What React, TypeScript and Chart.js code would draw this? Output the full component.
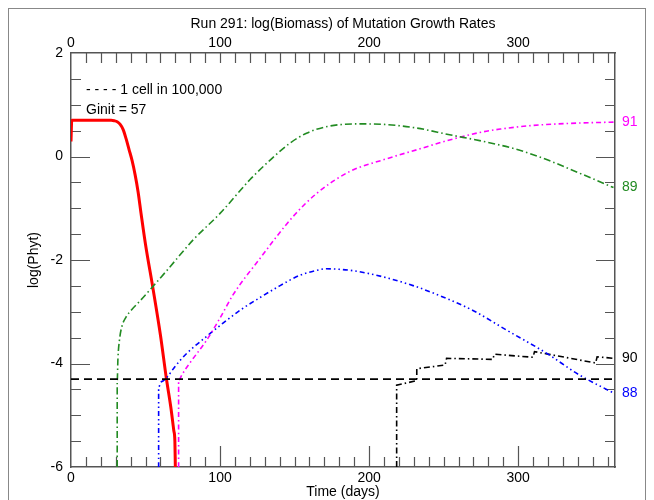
import React, { useEffect, useRef } from "react";
import { Chart, registerables } from "chart.js";

Chart.register(...registerables);

// ---- data ----
const redDays = [0, 0.5, 27, 29, 31, 33, 35, 37, 39, 41, 43, 45, 47, 50, 55, 60, 64, 67, 69, 69.7, 70];
const redVals = [0.29, 0.7, 0.7, 0.69, 0.67, 0.62, 0.52, 0.34, 0.13, -0.08, -0.35, -0.68, -1.1, -1.7, -2.55, -3.45, -4.29, -4.85, -5.3, -5.5, -6];

const greenDays = [31, 31, 31.5, 32.5, 34, 37, 41, 46, 55, 65, 82, 100, 120, 134, 147, 158, 172, 192, 210, 232, 254, 277, 300, 320, 341, 364];
const greenVals = [-6, -4.35, -3.9, -3.55, -3.3, -3.1, -2.95, -2.8, -2.51, -2.18, -1.61, -1.1, -0.45, -0.06, 0.26, 0.45, 0.58, 0.63, 0.62, 0.55, 0.42, 0.29, 0.13, -0.07, -0.32, -0.6];

const pinkDays = [72.2, 72.2, 73, 74.4, 80, 91, 100, 109, 126, 149, 165, 187, 210, 232, 254, 277, 288, 310, 335, 364];
const pinkVals = [-6, -4.32, -4.3, -4.22, -3.98, -3.55, -3.12, -2.66, -2.0, -1.16, -0.71, -0.29, -0.06, 0.13, 0.32, 0.48, 0.53, 0.6, 0.64, 0.665];

const blueDays = [58.8, 58.8, 59.9, 62, 64.3, 70, 77.8, 90, 102, 114, 126, 140, 154, 165, 171, 180, 190, 210, 230, 250, 270, 292, 319, 341, 364];
const blueVals = [-6, -4.47, -4.38, -4.33, -4.27, -4.05, -3.8, -3.5, -3.22, -2.96, -2.74, -2.5, -2.29, -2.2, -2.17, -2.18, -2.21, -2.33, -2.5, -2.72, -2.98, -3.35, -3.8, -4.22, -4.57];

const blackDays = [218.5, 218.5, 232, 232, 251, 252, 283, 284, 310, 311, 352, 353, 364];
const blackVals = [-6, -4.42, -4.33, -4.1, -4.03, -3.9, -3.92, -3.82, -3.88, -3.77, -3.99, -3.87, -3.9];

const cellDays = [0, 365];
const cellVals = [-4.3, -4.3];

const xTickValues = [0, 100, 200, 300];
const yTickValues = [-6, -4, -2, 0, 2];

const seriesLabels = [
  { text: "91", color: "#ff00ff", key: "pink" },
  { text: "89", color: "#228b22", key: "green" },
  { text: "90", color: "#000000", key: "black" },
  { text: "88", color: "#0000ff", key: "blue" },
];

const titleText = "Run 291: log(Biomass) of Mutation Growth Rates";
const legendLine1 = "- - - - 1 cell in 100,000";
const legendLine2 = "Ginit = 57";

const FONT = "'Liberation Sans', Arial, Helvetica, sans-serif";

function pts(xs: number[], ys: number[]) {
  return xs.map((x, i) => ({ x, y: ys[i] }));
}

const AXIS_COLOR = "#555";

const tickPlugin = {
  id: "inwardTicks",
  beforeDatasetsDraw(chart: any) {
    const { ctx, chartArea: a, scales } = chart;
    const xs = scales.x;
    const ys = scales.y;
    ctx.save();
    ctx.strokeStyle = AXIS_COLOR;
    ctx.lineWidth = 1.2;
    ctx.beginPath();
    for (let d = 10; d < 365; d += 10) {
      const px = Math.round(xs.getPixelForValue(d)) + 0.5;
      const major = d % 100 === 0;
      ctx.moveTo(px, a.bottom);
      ctx.lineTo(px, a.bottom - (major ? 21 : 10));
      ctx.moveTo(px, a.top);
      ctx.lineTo(px, a.top + 10);
    }
    for (let i = 1; i < 16; i++) {
      const v = -6 + i * 0.5;
      const py = Math.round(ys.getPixelForValue(v)) + 0.5;
      const major = i % 4 === 0;
      const len = major ? 19 : 10;
      ctx.moveTo(a.left, py);
      ctx.lineTo(a.left + len, py);
      ctx.moveTo(a.right, py);
      ctx.lineTo(a.right - len, py);
    }
    ctx.stroke();
    ctx.restore();
  },
  afterDatasetsDraw(chart: any) {
    const { ctx, chartArea: a, scales } = chart;
    const ys = scales.y;
    ctx.save();
    ctx.font = `14px ${FONT}`;
    ctx.textBaseline = "middle";
    ctx.textAlign = "left";
    ctx.fillStyle = "#000";
    ctx.fillText(legendLine1, a.left + 15, a.top + 37);
    ctx.fillText(legendLine2, a.left + 15, a.top + 57);
    const lastVals: Record<string, number> = {
      pink: pinkVals[pinkVals.length - 1],
      green: greenVals[greenVals.length - 1],
      black: blackVals[blackVals.length - 1],
      blue: blueVals[blueVals.length - 1],
    };
    for (const s of seriesLabels) {
      ctx.fillStyle = s.color;
      ctx.fillText(s.text, a.right + 7, ys.getPixelForValue(lastVals[s.key]));
    }
    ctx.restore();
  },
};

export default function App() {
  const ref = useRef<HTMLCanvasElement | null>(null);
  useEffect(() => {
    if (!ref.current) return;
    Chart.defaults.font.family = FONT;
    Chart.defaults.font.size = 14;
    Chart.defaults.color = "#000";
    const fixTicks = (vals: number[]) => (s: any) => {
      s.ticks = vals.map((v) => ({ value: v }));
    };
    const smooth = { cubicInterpolationMode: "monotone" };
    const chart = new Chart(ref.current, {
      type: "line",
      data: {
        datasets: [
          { data: pts(cellDays, cellVals), borderColor: "#000", borderWidth: 1.8, borderDash: [8, 5] },
          { ...smooth, data: pts(greenDays, greenVals), borderColor: "#228b22", borderWidth: 1.6, borderDash: [7, 3, 1.5, 3] },
          { ...smooth, data: pts(pinkDays, pinkVals), borderColor: "#ff00ff", borderWidth: 1.6, borderDash: [5, 3, 1.5, 3] },
          { ...smooth, data: pts(blueDays, blueVals), borderColor: "#0000ff", borderWidth: 1.6, borderDash: [5, 3, 1.5, 3, 1.5, 3] },
          { data: pts(blackDays, blackVals), borderColor: "#000", borderWidth: 1.6, borderDash: [6, 3, 1.5, 3] },
          { ...smooth, data: pts(redDays, redVals), borderColor: "#ff0000", borderWidth: 3 },
        ] as any,
      },
      options: {
        animation: false,
        responsive: false,
        parsing: true,
        elements: { point: { radius: 0 }, line: { tension: 0, fill: false } },
        layout: { padding: 0 },
        plugins: { legend: { display: false }, tooltip: { enabled: false }, title: { display: false } },
        scales: {
          x: {
            type: "linear",
            position: "bottom",
            min: 0,
            max: 365,
            afterBuildTicks: fixTicks(xTickValues),
            afterFit: (s: any) => { s.height = 33; },
            grid: { display: false, drawTicks: false },
            border: { display: true, color: AXIS_COLOR, width: 1.5 },
            ticks: { padding: 3, maxRotation: 0, color: "#000", font: { size: 14 } },
            title: { display: true, text: "Time (days)", color: "#000", font: { size: 14 }, padding: { top: 0, bottom: -1 } },
          },
          x2: {
            type: "linear",
            position: "top",
            min: 0,
            max: 365,
            afterBuildTicks: fixTicks(xTickValues),
            afterFit: (s: any) => { s.height = 44; },
            grid: { display: false, drawTicks: false },
            border: { display: true, color: AXIS_COLOR, width: 1.5 },
            ticks: { padding: 1, maxRotation: 0, color: "#000", font: { size: 14 } },
            title: { display: true, text: titleText, color: "#000", font: { size: 14 }, padding: { top: 7, bottom: 0 } },
          },
          y: {
            type: "linear",
            position: "left",
            min: -6,
            max: 2,
            afterBuildTicks: fixTicks(yTickValues),
            afterFit: (s: any) => { s.width = 62; },
            grid: { display: false, drawTicks: false },
            border: { display: true, color: AXIS_COLOR, width: 1.5 },
            ticks: { padding: 8, color: "#000", font: { size: 14 } },
            title: { display: true, text: "log(Phyt)", color: "#000", font: { size: 14 }, padding: { top: 17, bottom: 0 } },
          },
          y2: {
            type: "linear",
            position: "right",
            min: -6,
            max: 2,
            afterFit: (s: any) => { s.width = 30; },
            grid: { display: false, drawTicks: false },
            border: { display: true, color: AXIS_COLOR, width: 1.5 },
            ticks: { display: false },
          },
        } as any,
      },
      plugins: [tickPlugin],
    });
    return () => chart.destroy();
  }, []);

  return (
    <div
      style={{
        width: 636,
        height: 492,
        borderTop: "1px solid #888",
        borderLeft: "1px solid #888",
        borderRight: "1px solid #888",
        overflow: "hidden",
      }}
    >
      <canvas ref={ref} width={636} height={491} style={{ display: "block" }} />
    </div>
  );
}
